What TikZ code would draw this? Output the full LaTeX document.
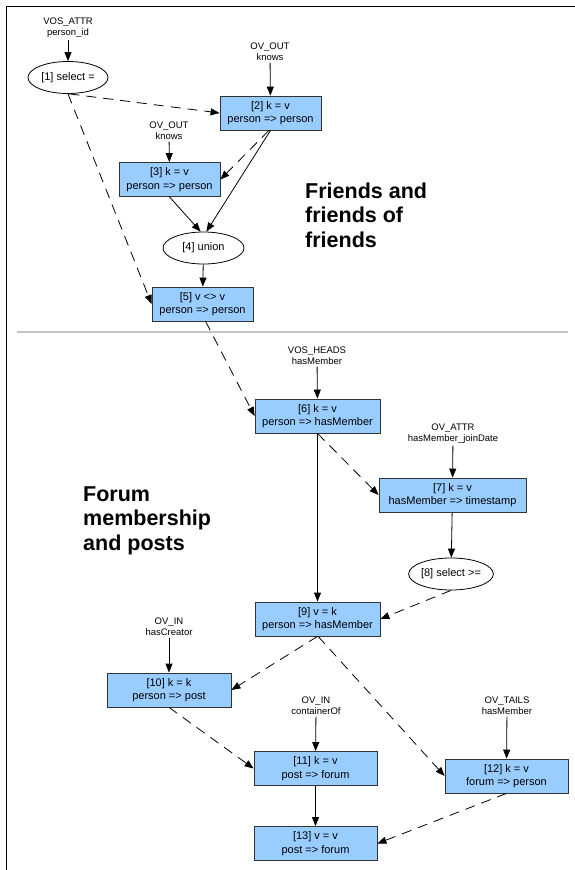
\documentclass[tikz,border=0pt]{standalone}
\usepackage{fontspec}
\setmainfont{Liberation Sans}
\usetikzlibrary{arrows.meta,shapes.geometric}
\definecolor{boxblue}{HTML}{99CCFF}
\definecolor{sepgray}{HTML}{C4C4C4}
\tikzset{
 opbox/.style={rectangle, fill=boxblue, draw=black!80, line width=0.8pt, minimum height=34pt, inner sep=0pt, align=center, font=\fontsize{11}{13.5}\selectfont},
 opell/.style={ellipse, draw=black, line width=0.8pt, minimum width=80pt, minimum height=32pt, inner sep=0pt, font=\fontsize{11}{13.5}\selectfont},
 srclab/.style={align=center, inner sep=2pt, font=\fontsize{9.5}{11}\selectfont},
 flow/.style={-{Triangle[length=9pt,width=7pt]}, line width=0.8pt},
 dflow/.style={flow, dash pattern=on 10pt off 7pt},
 heading/.style={align=left, anchor=north west, inner sep=0pt, font=\fontsize{21.5}{24.5}\selectfont\bfseries},
}
\begin{document}
\begin{tikzpicture}[x=1pt,y=-1pt]
\useasboundingbox (0,0) rectangle (575,870);
% frame
\draw[line width=1pt] (6,870) -- (6,6) -- (575,6);
% separator
\draw[sepgray, line width=2pt] (17,332) -- (568,332);

% headings
\node[heading] (h1) at (305,182.5) {Friends and\\friends of\\friends};
\node[heading] (h2) at (83,486.5) {Forum\\membership\\and posts};

% upper part
\node[srclab] (l1) at (68,28) {VOS\_ATTR\\person\_id};
\node[opell] (n1) at (68,77.5) {[1] select =};
\node[srclab] (l2) at (270,51.5) {OV\_OUT\\knows};
\node[opbox, minimum width=101pt] (n2) at (270.5,113) {[2] k = v\\person => person};
\node[srclab] (l3) at (169,130.5) {OV\_OUT\\knows};
\node[opbox, minimum width=101pt] (n3) at (169.5,179.5) {[3] k = v\\person => person};
\node[opell, minimum width=81pt] (n4) at (203.5,248) {[4] union};
\node[opbox, minimum width=101pt] (n5) at (202.5,304) {[5] v <> v\\person => person};

% lower part
\node[srclab] (l6) at (317,355.5) {VOS\_HEADS\\hasMember};
\node[opbox, minimum width=125pt] (n6) at (317.5,416) {[6] k = v\\person => hasMember};
\node[srclab] (l7) at (453,433.5) {OV\_ATTR\\hasMember\_joinDate};
\node[opbox, minimum width=147pt] (n7) at (452.5,495) {[7] k = v\\hasMember => timestamp};
\node[opell] (n8) at (451,574) {[8] select >=};
\node[opbox, minimum width=125pt] (n9) at (317.5,619) {[9] v = k\\person => hasMember};
\node[srclab] (l10) at (169,626.5) {OV\_IN\\hasCreator};
\node[opbox, minimum width=124pt] (n10) at (169,690) {[10] k = k\\person => post};
\node[srclab] (l11) at (316,705.5) {OV\_IN\\containerOf};
\node[opbox, minimum width=123pt] (n11) at (315.5,768.5) {[11] k = v\\post => forum};
\node[srclab] (l12) at (507,705.5) {OV\_TAILS\\hasMember};
\node[opbox, minimum width=123pt] (n12) at (506.5,776) {[12] k = v\\forum => person};
\node[opbox, minimum width=123pt] (n13) at (315.5,843.5) {[13] v = v\\post => forum};

% solid edges
\draw[flow] (l1) -- (n1);
\draw[flow] (l2) -- (n2);
\draw[flow] (l3) -- (n3);
\draw[flow] (n2.south) -- (n4.80);
\draw[flow] (n3.south) -- (n4.100);
\draw[flow] (n4) -- (n5);
\draw[flow] (l6) -- (n6);
\draw[flow] (n6) -- (n9);
\draw[flow] (l7) -- (n7);
\draw[flow] (n7) -- (n8);
\draw[flow] (l10) -- (n10);
\draw[flow] (l11) -- (n11);
\draw[flow] (n11) -- (n13);
\draw[flow] (l12) -- (n12);

% dashed edges
\draw[dflow] (n1.-85) -- (n2.west);
\draw[dflow] (n1.south) -- (n5.west);
\draw[dflow] (n2.-95) -- (n3.east);
\draw[dflow] (n5.-80) -- (n6.west);
\draw[dflow] (n6.south) -- (n7.west);
\draw[dflow] (n8.south) -- (n9.east);
\draw[dflow] (n9.south) -- (n10.east);
\draw[dflow] (n9.-88) -- (n12.west);
\draw[dflow] (n10.south) -- (n11.west);
\draw[dflow] (n12.south) -- (n13.east);
\end{tikzpicture}
\end{document}
